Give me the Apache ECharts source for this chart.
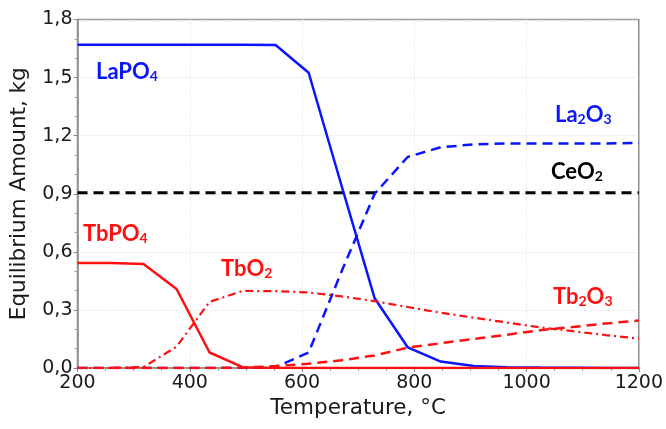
<!DOCTYPE html>
<html>
<head>
<meta charset="utf-8">
<script src="https://cdn.jsdelivr.net/npm/echarts@6/dist/echarts.min.js"></script>
<style>
  html, body { margin: 0; padding: 0; background: #fff; }
  #chart { width: 666px; height: 429px; }
</style>
</head>
<body>
<div id="chart"></div>
<script>
// Calculation temperatures, °C (equal steps from 200 to 1200)
const temperatures = [200, 258.8, 317.6, 376.5, 435.3, 494.1, 552.9, 611.8, 670.6,
  729.4, 788.2, 847.1, 905.9, 964.7, 1023.5, 1082.4, 1141.2, 1200];

// Equilibrium amounts of each phase, kg
const laPO4  = [1.67, 1.67, 1.67, 1.67, 1.67, 1.67, 1.668, 1.525, 0.94, 0.36, 0.107, 0.033, 0.01, 0.004, 0.002, 0.001, 0, 0];
const la2O3  = [0, 0, 0, 0, 0, 0, 0.004, 0.08, 0.5, 0.9, 1.09, 1.14, 1.155, 1.16, 1.16, 1.16, 1.16, 1.162];
const ceO2   = [0.905, 0.905, 0.905, 0.905, 0.905, 0.905, 0.905, 0.905, 0.905, 0.905, 0.905, 0.905, 0.905, 0.905, 0.905, 0.905, 0.905, 0.905];
const tbPO4  = [0.542, 0.542, 0.537, 0.408, 0.08, 0.004, 0, 0, 0, 0, 0, 0, 0, 0, 0, 0, 0, 0];
const tbO2   = [0, 0, 0.005, 0.11, 0.342, 0.398, 0.397, 0.39, 0.37, 0.345, 0.315, 0.285, 0.26, 0.235, 0.21, 0.19, 0.17, 0.152];
const tb2O3  = [0, 0, 0, 0, 0, 0.002, 0.01, 0.022, 0.04, 0.065, 0.105, 0.128, 0.15, 0.172, 0.195, 0.212, 0.23, 0.245];

// Axis ranges and tick steps
const xRange = [200, 1200], xStep = 200;
const yRange = [0, 1.8], yStep = 0.3;

const BLUE = '#0a14ff', RED = '#ff1010', BLACK = '#000000';
const tickFont = 'DejaVu Sans';
const noteFont = 'Lato';

function pairs(values) {
  return temperatures.map((t, i) => [t, values[i]]);
}

function lineSeries(name, values, color, type, width) {
  return {
    name, type: 'line', data: pairs(values), symbol: 'none', silent: true,
    lineStyle: { color, width, type }, z: 3
  };
}

// Phase label: tokens are [text, 'm' | 's'] where 's' is a subscript
function richNote(tokens, color, left, top) {
  return {
    type: 'text', left, top, silent: true, z: 10,
    style: {
      text: tokens.map(p => '{' + p[1] + '|' + p[0] + '}').join(''),
      rich: {
        m: { fontFamily: noteFont, fontWeight: 'bold', fontSize: 22, lineHeight: 24, fill: color, verticalAlign: 'bottom' },
        s: { fontFamily: noteFont, fontWeight: 'bold', fontSize: 14, lineHeight: 14, fill: color, verticalAlign: 'bottom' }
      }
    }
  };
}

const chart = echarts.init(document.getElementById('chart'), null, { renderer: 'canvas' });

chart.setOption({
  animation: false,
  backgroundColor: '#ffffff',
  grid: {
    left: 77.5, right: 26, top: 19.5, bottom: 61,
    show: true, borderColor: '#8a8a8a', borderWidth: 1.5, backgroundColor: 'transparent'
  },
  xAxis: {
    type: 'value', min: xRange[0], max: xRange[1], interval: xStep,
    name: 'Temperature, °C', nameLocation: 'middle', nameGap: 29,
    nameTextStyle: { fontFamily: tickFont, fontSize: 21.5, color: '#1a1a1a' },
    axisLine: { show: true, onZero: false, lineStyle: { color: '#8a8a8a', width: 1.5 } },
    axisTick: { show: true, inside: false, length: 4, lineStyle: { color: '#8a8a8a' } },
    minorTick: { show: true, splitNumber: 4, length: 3, lineStyle: { color: '#a0a0a0' } },
    axisLabel: {
      fontFamily: tickFont, fontSize: 19, color: '#1a1a1a', margin: 6,
      formatter: v => String(v)
    },
    splitLine: { show: true, lineStyle: { color: '#d6d6d6', type: [1, 2], width: 1 } }
  },
  yAxis: {
    type: 'value', min: yRange[0], max: yRange[1], interval: yStep,
    name: 'Equilibrium Amount, kg', nameLocation: 'middle', nameGap: 47,
    nameTextStyle: { fontFamily: tickFont, fontSize: 21.5, color: '#1a1a1a' },
    axisLine: { show: true, lineStyle: { color: '#8a8a8a', width: 1.5 } },
    axisTick: { show: true, inside: false, length: 4, lineStyle: { color: '#8a8a8a' } },
    minorTick: { show: true, splitNumber: 3, length: 3, lineStyle: { color: '#a0a0a0' } },
    axisLabel: {
      fontFamily: tickFont, fontSize: 19, color: '#1a1a1a', margin: 5,
      formatter: v => v.toFixed(1).replace('.', ',')
    },
    splitLine: { show: true, lineStyle: { color: '#d6d6d6', type: [1, 2], width: 1 } }
  },
  series: [
    lineSeries('CeO2', ceO2, BLACK, [10, 6], 3),
    lineSeries('La2O3', la2O3, BLUE, [10, 6], 2.5),
    lineSeries('LaPO4', laPO4, BLUE, 'solid', 2.5),
    lineSeries('TbO2', tbO2, RED, [8, 4, 2, 4], 2.2),
    lineSeries('Tb2O3', tb2O3, RED, [10, 6], 2.5),
    lineSeries('TbPO4', tbPO4, RED, 'solid', 2.5)
  ],
  graphic: [
    richNote([['LaPO', 'm'], ['4', 's']], BLUE, 96, 61),
    richNote([['La', 'm'], ['2', 's'], ['O', 'm'], ['3', 's']], BLUE, 555, 104),
    richNote([['CeO', 'm'], ['2', 's']], BLACK, 551, 161),
    richNote([['TbPO', 'm'], ['4', 's']], RED, 83, 223),
    richNote([['TbO', 'm'], ['2', 's']], RED, 221, 258),
    richNote([['Tb', 'm'], ['2', 's'], ['O', 'm'], ['3', 's']], RED, 553, 286)
  ]
});
</script>
</body>
</html>
